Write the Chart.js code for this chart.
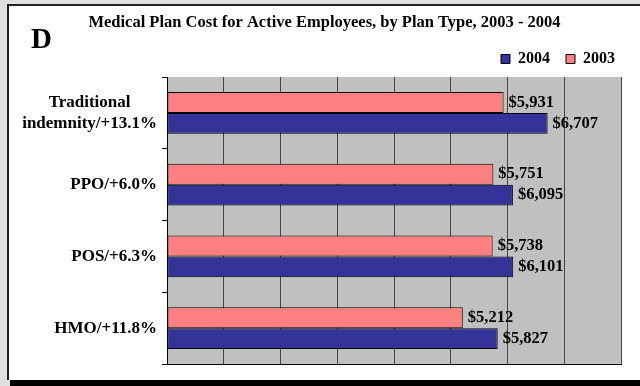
<!DOCTYPE html>
<html>
<head>
<meta charset="utf-8">
<script src="https://cdn.jsdelivr.net/npm/chart.js@4/dist/chart.umd.min.js"></script>
<style>
  html, body { margin: 0; padding: 0; background: #e0e0e0; }
  #wrap { position: relative; width: 640px; height: 386px; overflow: hidden; }
  #panel {
    position: absolute; left: 7px; top: 4px; width: 640px; height: 374px;
    background: #fff; border-left: 2px solid #222; border-top: 2px solid #222;
  }
  #shadow { position: absolute; left: 10px; top: 380px; width: 640px; height: 6px; background: #000; }
  #chart { position: absolute; left: 0; top: 0; }
</style>
</head>
<body>
<div id="wrap">
  <div id="panel"></div>
  <div id="shadow"></div>
  <canvas id="chart" width="640" height="386"></canvas>
</div>
<script>
// Plan types, with the 2003 -> 2004 change in each label
const planLabels = [
  ["Traditional", "indemnity/+13.1%"],
  ["PPO/+6.0%"],
  ["POS/+6.3%"],
  ["HMO/+11.8%"]
];
const cost2003 = [5931, 5751, 5738, 5212];
const cost2004 = [6707, 6095, 6101, 5827];

const chartTitle = "Medical Plan Cost for Active Employees, by Plan Type, 2003 - 2004";
const serif = "'Liberation Serif', 'Times New Roman', serif";

function money(v) {
  return "$" + v.toLocaleString("en-US");
}

// gray plot background, drawn before the grid
const plotBackground = {
  id: "plotBackground",
  beforeDraw(chart) {
    const { ctx, chartArea: a } = chart;
    ctx.save();
    ctx.fillStyle = "#c0c0c0";
    ctx.fillRect(a.left, a.top, a.right - a.left, a.bottom - a.top);
    ctx.restore();
  }
};

// push the legend row a little further right than the plot edge
const legendNudge = {
  id: "legendNudge",
  afterLayout(chart) {
    chart.legend.right += 10;
  }
};

// title, corner letter and category names
const headings = {
  id: "headings",
  afterDraw(chart) {
    const { ctx } = chart;
    const y = chart.scales.y;
    ctx.save();
    ctx.fillStyle = "#000";

    ctx.font = "bold 16.5px " + serif;
    ctx.textAlign = "center";
    ctx.textBaseline = "middle";
    ctx.fillText(chartTitle, 324.5, 23);

    ctx.font = "bold 29px " + serif;
    ctx.textAlign = "left";
    ctx.textBaseline = "alphabetic";
    ctx.fillText("D", 31, 48);

    // names: block right-aligned to the axis, lines centred in the block
    ctx.font = "bold 17px " + serif;
    ctx.textAlign = "center";
    ctx.textBaseline = "middle";
    const right = y.right - 10;
    const lineH = 21;
    planLabels.forEach((lines, i) => {
      const w = Math.max(...lines.map(t => ctx.measureText(t).width));
      const cx = right - w / 2;
      const cy = y.getPixelForTick(i);
      lines.forEach((t, j) => {
        ctx.fillText(t, cx, cy + (j - (lines.length - 1) / 2) * lineH);
      });
    });
    ctx.restore();
  }
};

// dollar value at the end of every bar
const barValues = {
  id: "barValues",
  afterDatasetsDraw(chart) {
    const { ctx } = chart;
    ctx.save();
    ctx.font = "bold 16.5px " + serif;
    ctx.fillStyle = "#000";
    ctx.textAlign = "left";
    ctx.textBaseline = "middle";
    chart.data.datasets.forEach((ds, di) => {
      chart.getDatasetMeta(di).data.forEach((bar, i) => {
        ctx.fillText(money(ds.data[i]), bar.x + 5, bar.y);
      });
    });
    ctx.restore();
  }
};

new Chart(document.getElementById("chart"), {
  type: "bar",
  data: {
    labels: planLabels.map(l => l.join(" ")),
    datasets: [
      {
        label: "2003",
        data: cost2003,
        backgroundColor: "#ff8080",
        borderColor: "#000",
        borderWidth: 1,
        borderSkipped: false,
        categoryPercentage: 0.58,
        barPercentage: 1
      },
      {
        label: "2004",
        data: cost2004,
        backgroundColor: "#333399",
        borderColor: "#000",
        borderWidth: 1,
        borderSkipped: false,
        categoryPercentage: 0.58,
        barPercentage: 1
      }
    ]
  },
  options: {
    indexAxis: "y",
    responsive: false,
    animation: false,
    layout: { padding: { left: 0, right: 19, top: 35, bottom: 22 } },
    plugins: {
      title: { display: false },
      legend: {
        position: "top",
        align: "end",
        reverse: true,
        labels: {
          color: "#000",
          boxWidth: 9,
          boxHeight: 9,
          padding: 16,
          font: { family: serif, size: 16, weight: "bold" }
        }
      },
      tooltip: { enabled: false }
    },
    scales: {
      x: {
        min: 0,
        max: 8000,
        ticks: { display: false, stepSize: 1000 },
        grid: { color: "#444", lineWidth: 1, drawTicks: false },
        border: { color: "#000", width: 1 }
      },
      y: {
        ticks: { display: false },
        grid: { drawOnChartArea: false, drawTicks: true, tickLength: 5, color: "#000", offset: true },
        border: { color: "#000", width: 1 },
        afterFit(scale) { scale.width = 167; }
      }
    }
  },
  plugins: [plotBackground, legendNudge, headings, barValues]
});
</script>
</body>
</html>
